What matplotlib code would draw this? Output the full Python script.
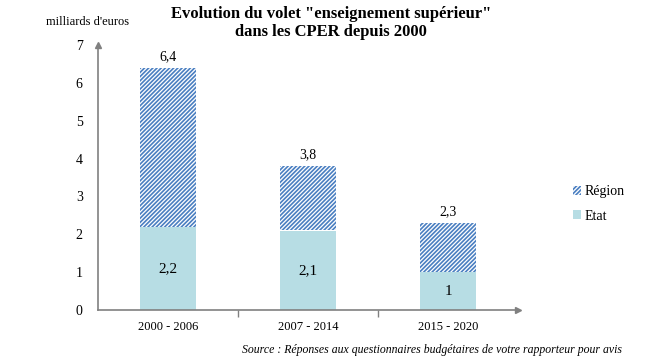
import numpy as np
import matplotlib.pyplot as plt

categories = ['2000 - 2006', '2007 - 2014', '2015 - 2020']
etat = [2.2, 2.1, 1.0]
region = [4.2, 1.7, 1.3]
total_labels = ['6,4', '3,8', '2,3']
etat_labels = ['2,2', '2,1', '1']

plt.rcParams['font.family'] = ['Liberation Serif', 'DejaVu Serif']
plt.rcParams['hatch.linewidth'] = 1.2

gris = '#808080'
bleu = '#4a7fc1'
clair = '#b7dde4'

fig = plt.figure(figsize=(6.45, 3.63), dpi=100)
ax = fig.add_axes([98/645, 1-310/363, 420/645, 265/363])

x = np.arange(len(categories))
b1 = ax.bar(x, etat, width=0.4, color=clair, linewidth=0, label='Etat')
b2 = ax.bar(x, region, width=0.4, bottom=etat, facecolor='white',
            edgecolor=bleu, hatch='/' * 8, linewidth=0, label='Région')

for i in range(len(categories)):
    ax.text(x[i], etat[i] + region[i] + 0.12, total_labels[i], ha='center', va='bottom', fontsize=10)
    ax.text(x[i], etat[i] / 2, etat_labels[i], ha='center', va='center', fontsize=11)

ax.set_xlim(-0.5, 2.5)
ax.set_ylim(0, 7)
ax.set_yticks(range(8))
ax.tick_params(axis='y', length=0, labelsize=10, pad=11)
ax.set_yticks([3, 5, 7], minor=True)
ax.tick_params(axis='y', which='minor', length=4, color=gris, width=1)
ax.set_xticks(x)
ax.set_xticklabels(categories)
ax.tick_params(axis='x', length=0, labelsize=9, pad=8)
ax.set_xticks([0.5, 1.5], minor=True)
ax.tick_params(axis='x', which='minor', length=5, color=gris, width=1)

for s in ['top', 'right']:
    ax.spines[s].set_visible(False)
for s in ['left', 'bottom']:
    ax.spines[s].set_color(gris)
    ax.spines[s].set_linewidth(1.2)

# fleches au bout des axes
ax.plot(1, 0, '>', color=gris, ms=5, transform=ax.get_yaxis_transform(), clip_on=False)
ax.plot(-0.5, 1, '^', color=gris, ms=5, transform=ax.get_xaxis_transform(), clip_on=False)

fig.text(0.513, 0.962, 'Evolution du volet "enseignement supérieur"', ha='center', va='center',
         fontsize=12, fontweight='bold')
fig.text(0.513, 0.912, 'dans les CPER depuis 2000', ha='center', va='center',
         fontsize=12, fontweight='bold')
fig.text(0.135, 0.94, "milliards d'euros", ha='center', va='center', fontsize=9)
fig.text(0.965, 0.035, 'Source : Réponses aux questionnaires budgétaires de votre rapporteur pour avis',
         ha='right', va='center', fontsize=8.5, style='italic')

ax.legend(handles=[b2, b1], loc='center left', bbox_to_anchor=(1.1, 0.4), frameon=False,
          handlelength=0.6, handleheight=0.6, handletextpad=0.3, labelspacing=0.8, fontsize=10)

fig.savefig('out.png', dpi=100)
